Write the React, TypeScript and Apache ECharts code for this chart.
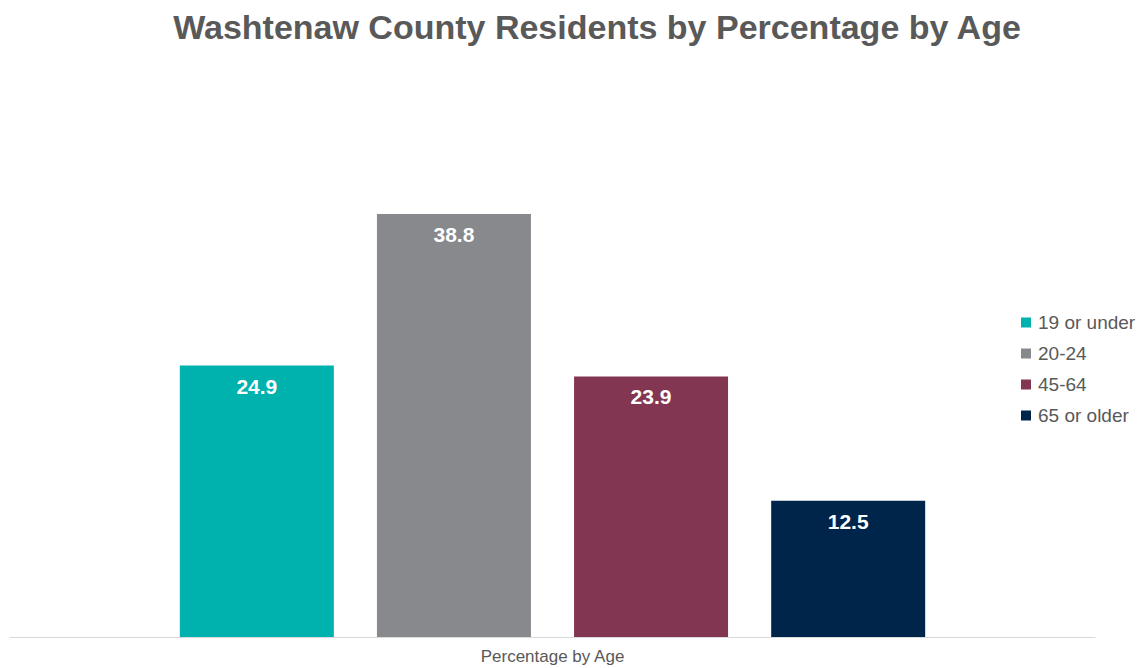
import React, { useEffect, useRef } from "react";
import * as echarts from "echarts";

const categories = ["Percentage by Age"];
const seriesNames = ["19 or under", "20-24", "45-64", "65 or older"];
const seriesValues = [24.9, 38.8, 23.9, 12.5];
const seriesColors = ["#00B2AE", "#88898D", "#833652", "#00254A"];

const FONT = "Liberation Sans, Arial, sans-serif";

export default function App() {
  const ref = useRef<HTMLDivElement>(null);
  useEffect(() => {
    const chart = echarts.init(ref.current!, null, { renderer: "svg" });
    chart.setOption({
      animation: false,
      title: {
        text: "Washtenaw County Residents by Percentage by Age",
        left: 592,
        textAlign: "center",
        top: 5,
        textStyle: {
          fontFamily: FONT,
          fontSize: 34,
          fontWeight: "bold",
          color: "#595959",
        },
      },
      legend: {
        orient: "vertical",
        left: 1016,
        top: 308,
        itemWidth: 14,
        itemHeight: 10,
        itemGap: 12,
        icon: "path://M0,0H10V10H0Z",
        textStyle: {
          fontFamily: FONT,
          fontSize: 19,
          color: "#595959",
        },
        data: seriesNames,
      },
      grid: { left: 10, right: 45, top: 92, bottom: 31, containLabel: false },
      xAxis: {
        type: "category",
        data: categories,
        axisLine: { lineStyle: { color: "#D9D9D9", width: 1 } },
        axisTick: { show: false },
        axisLabel: {
          fontFamily: FONT,
          fontSize: 17,
          color: "#595959",
          margin: 11,
        },
      },
      yAxis: {
        type: "value",
        min: 0,
        max: 50,
        show: false,
        splitLine: { show: false },
      },
      series: seriesNames.map((name, i) => ({
        name,
        type: "bar",
        data: [seriesValues[i]],
        barWidth: 154,
        barGap: "28%",
        itemStyle: { color: seriesColors[i] },
        label: {
          show: true,
          position: "insideTop",
          distance: 10,
          color: "#FFFFFF",
          fontFamily: FONT,
          fontSize: 21,
          fontWeight: "bold",
        },
      })),
    });
    return () => chart.dispose();
  }, []);
  return <div ref={ref} style={{ width: 1140, height: 668, position: "absolute", left: 0, top: 0 }} />;
}
